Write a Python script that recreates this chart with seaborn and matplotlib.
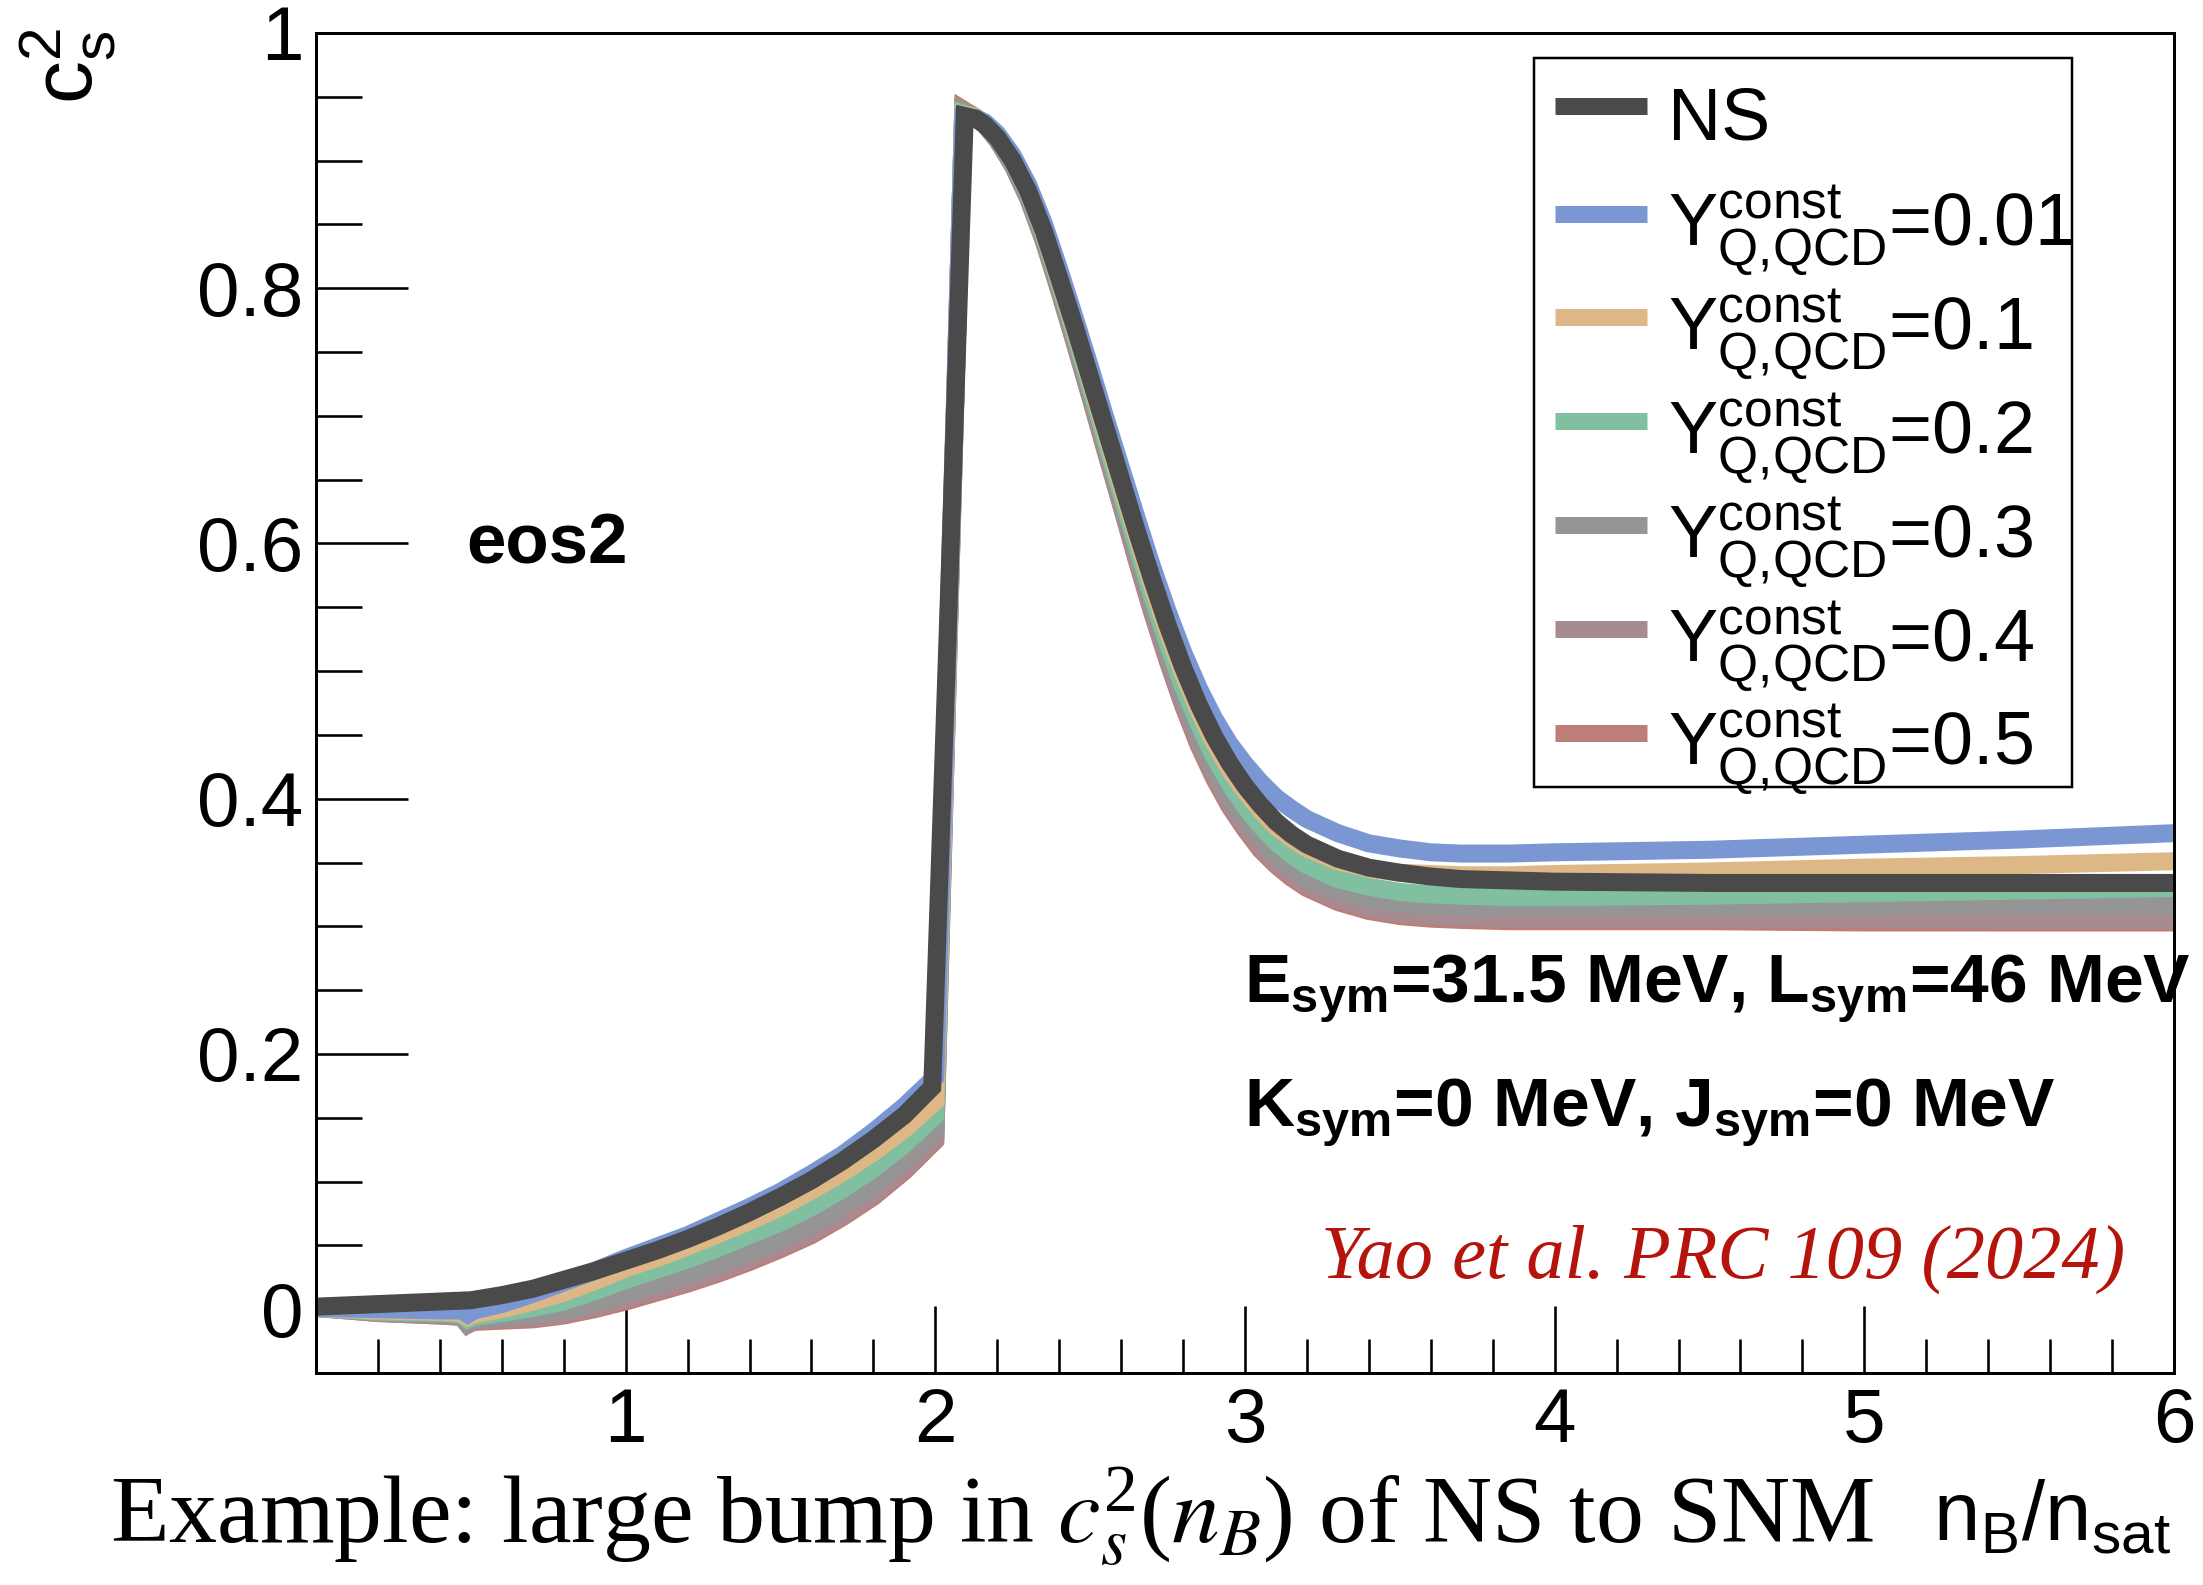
import matplotlib
matplotlib.use("Agg")
import matplotlib.pyplot as plt
import seaborn as sns
from matplotlib.ticker import MultipleLocator, FixedLocator, FuncFormatter
from matplotlib.lines import Line2D
from matplotlib.patches import Rectangle

# ---------------- data ----------------
x_ns = [0.0, 0.2, 0.4, 0.5, 0.6, 0.7, 0.8, 0.9, 1.0, 1.1, 1.2, 1.3, 1.4, 1.5, 1.6, 1.7, 1.8,
        1.9, 1.99, 2.04, 2.095, 2.13, 2.16, 2.2, 2.25, 2.3, 2.35, 2.4, 2.45, 2.5, 2.55, 2.6,
        2.65, 2.7, 2.75, 2.8, 2.85, 2.9, 2.95, 3.0, 3.05, 3.1, 3.15, 3.2, 3.3, 3.4, 3.5, 3.6,
        3.7, 3.85, 4.0, 4.5, 5.0, 5.5, 6.0]
cs2_ns = [0.002, 0.004, 0.006, 0.007, 0.011, 0.016, 0.023, 0.030, 0.038, 0.046, 0.055, 0.065,
          0.076, 0.088, 0.101, 0.116, 0.133, 0.152, 0.174, 0.53, 0.935, 0.933, 0.928, 0.918,
          0.900, 0.876, 0.845, 0.808, 0.770, 0.730, 0.690, 0.650, 0.610, 0.572, 0.536, 0.503,
          0.474, 0.449, 0.428, 0.410, 0.395, 0.382, 0.372, 0.364, 0.353, 0.346, 0.342, 0.339,
          0.337, 0.336, 0.335, 0.334, 0.334, 0.334, 0.334]

x_q = [0.0, 0.2, 0.4, 0.47, 0.49, 0.51, 0.6, 0.7, 0.8, 0.9, 1.0, 1.1, 1.2, 1.3, 1.4, 1.5, 1.6,
       1.7, 1.8, 1.9, 2.0, 2.045, 2.09, 2.13, 2.16, 2.2, 2.25, 2.3, 2.35, 2.4, 2.45, 2.5, 2.55,
       2.6, 2.65, 2.7, 2.75, 2.8, 2.85, 2.9, 2.95, 3.0, 3.05, 3.1, 3.15, 3.2, 3.3, 3.4, 3.5,
       3.6, 3.7, 3.85, 4.0, 4.5, 5.0, 5.5, 6.0]
cs2_yq001 = [0.001, 0.000, -0.001, -0.001, -0.004, -0.001,
             0.004, 0.012, 0.021, 0.030, 0.040, 0.049, 0.058, 0.069, 0.080, 0.092, 0.106, 0.121,
             0.139, 0.159, 0.182, 0.56, 0.934, 0.933, 0.930,
             0.921, 0.904, 0.881, 0.851, 0.815, 0.777, 0.738, 0.698, 0.659, 0.620, 0.582, 0.547,
             0.515, 0.487, 0.463, 0.443, 0.427, 0.413, 0.401, 0.392, 0.384,
             0.373, 0.365, 0.361, 0.358, 0.357, 0.357, 0.358, 0.360, 0.364, 0.368, 0.373]
cs2_yq01 = [0.001, -0.001, -0.002, -0.003, -0.006, -0.004,
            0.000, 0.006, 0.013, 0.022, 0.032, 0.040, 0.049, 0.059, 0.069, 0.080, 0.093, 0.107,
            0.123, 0.141, 0.163, 0.55, 0.936, 0.934, 0.929,
            0.919, 0.901, 0.877, 0.845, 0.807, 0.768, 0.728, 0.687, 0.646, 0.606, 0.567, 0.531,
            0.498, 0.469, 0.444, 0.423, 0.406, 0.391, 0.378, 0.369, 0.361,
            0.351, 0.345, 0.342, 0.341, 0.340, 0.340, 0.341, 0.343, 0.346, 0.348, 0.351]
cs2_yq02 = [0.001, -0.002, -0.003, -0.004, -0.008, -0.006,
            -0.003, 0.001, 0.006, 0.014, 0.023, 0.031, 0.039, 0.048, 0.058, 0.068, 0.080, 0.094,
            0.110, 0.129, 0.152, 0.55, 0.937, 0.934, 0.929,
            0.918, 0.899, 0.874, 0.842, 0.804, 0.764, 0.723, 0.681, 0.640, 0.599, 0.559, 0.522,
            0.488, 0.459, 0.433, 0.412, 0.394, 0.379, 0.366, 0.356, 0.348,
            0.337, 0.331, 0.327, 0.325, 0.324, 0.323, 0.323, 0.324, 0.326, 0.328, 0.330]
cs2_yq03 = [0.001, -0.002, -0.004, -0.005, -0.010, -0.008,
            -0.006, -0.004, -0.001, 0.005, 0.013, 0.020, 0.027, 0.036, 0.045, 0.055, 0.067, 0.081,
            0.097, 0.117, 0.141, 0.545, 0.938, 0.934, 0.928,
            0.917, 0.898, 0.872, 0.840, 0.801, 0.761, 0.719, 0.677, 0.635, 0.593, 0.553, 0.515,
            0.480, 0.450, 0.424, 0.402, 0.384, 0.369, 0.356, 0.346, 0.338,
            0.328, 0.321, 0.318, 0.316, 0.315, 0.315, 0.315, 0.315, 0.316, 0.316, 0.316]
cs2_yq04 = [0.001, -0.003, -0.005, -0.006, -0.012, -0.009,
            -0.008, -0.007, -0.004, 0.001, 0.008, 0.015, 0.022, 0.030, 0.039, 0.049, 0.060, 0.074,
            0.090, 0.110, 0.134, 0.54, 0.939, 0.934, 0.928,
            0.916, 0.897, 0.871, 0.838, 0.799, 0.758, 0.716, 0.674, 0.631, 0.589, 0.548, 0.510,
            0.475, 0.444, 0.418, 0.396, 0.378, 0.362, 0.350, 0.340, 0.332,
            0.321, 0.314, 0.310, 0.308, 0.307, 0.306, 0.306, 0.306, 0.306, 0.305, 0.305]
cs2_yq05 = [0.001, -0.003, -0.005, -0.006, -0.012, -0.010,
            -0.009, -0.008, -0.005, 0.000, 0.006, 0.013, 0.020, 0.028, 0.037, 0.047, 0.058, 0.072,
            0.088, 0.108, 0.132, 0.54, 0.940, 0.934, 0.928,
            0.916, 0.896, 0.870, 0.837, 0.798, 0.757, 0.715, 0.672, 0.630, 0.587, 0.546, 0.508,
            0.473, 0.442, 0.416, 0.394, 0.376, 0.360, 0.348, 0.338, 0.330,
            0.319, 0.312, 0.308, 0.306, 0.305, 0.304, 0.304, 0.304, 0.303, 0.303, 0.303]

yq_values = ["0.01", "0.1", "0.2", "0.3", "0.4", "0.5"]
yq_series = [cs2_yq001, cs2_yq01, cs2_yq02, cs2_yq03, cs2_yq04, cs2_yq05]
yq_colors = ["#7b97d3", "#ddb886", "#80c0a0", "#959595", "#a88b90", "#bd7e77"]
ns_color = "#4a4a4a"

y_ticks = [0.0, 0.2, 0.4, 0.6, 0.8, 1.0]
x_ticks = [0, 1, 2, 3, 4, 5, 6]

# ---------------- style ----------------
sns.set_theme(style="ticks")
plt.rcParams["font.family"] = ["Liberation Sans", "DejaVu Sans"]
plt.rcParams["mathtext.default"] = "regular"
plt.rcParams["text.color"] = "black"
plt.rcParams["axes.labelcolor"] = "black"
plt.rcParams["xtick.color"] = "black"
plt.rcParams["ytick.color"] = "black"

W, H = 2203, 1585
PX = 0.72  # points per pixel at dpi 100
fig = plt.figure(figsize=(W / 100, H / 100), dpi=100)
fig.patch.set_facecolor("white")
ax = fig.add_axes([316 / W, 1 - 1373 / H, (2174 - 316) / W, (1373 - 33) / H])
ax.set_facecolor("white")

LW = 18 * PX

# colored curves from the last (lowest) to the first, NS on top
for ys, col in reversed(list(zip(yq_series, yq_colors))):
    sns.lineplot(x=x_q, y=ys, color=col, lw=LW, ax=ax, sort=False,
                 estimator=None, legend=False)
    ln = ax.lines[-1]
    ln.set_solid_capstyle("butt")
    ln.set_solid_joinstyle("miter")
sns.lineplot(x=x_ns, y=cs2_ns, color=ns_color, lw=LW, ax=ax, sort=False,
             estimator=None, legend=False)
ax.lines[-1].set_solid_capstyle("butt")
ax.lines[-1].set_solid_joinstyle("miter")

ax.set_xlim(0, 6)
ax.set_ylim(-0.05, 1.0)
ax.set_xlabel("")
ax.set_ylabel("")

ax.xaxis.set_major_locator(FixedLocator(x_ticks))
ax.xaxis.set_minor_locator(MultipleLocator(0.2))
ax.yaxis.set_major_locator(FixedLocator(y_ticks))
ax.yaxis.set_minor_locator(MultipleLocator(0.05))
ax.xaxis.set_major_formatter(FuncFormatter(lambda v, p: "" if abs(v) < 1e-9 else "%g" % v))
ax.yaxis.set_major_formatter(FuncFormatter(lambda v, p: "%g" % round(v, 2)))

for s in ax.spines.values():
    s.set_visible(True)
    s.set_color("black")
    s.set_linewidth(3 * PX)

ax.tick_params(axis="x", which="major", direction="in", length=67 * PX, width=2.6 * PX,
               labelsize=55, pad=10, colors="black", top=False)
ax.tick_params(axis="x", which="minor", direction="in", length=34 * PX, width=2.6 * PX,
               colors="black", top=False)
ax.tick_params(axis="y", which="major", direction="in", length=92 * PX, width=2.6 * PX,
               labelsize=55, pad=9, colors="black", right=False)
ax.tick_params(axis="y", which="minor", direction="in", length=46 * PX, width=2.6 * PX,
               colors="black", right=False)
ax.grid(False)

# ---------------- legend (NS row + six Y rows, one frame) ----------------
leg_kw = dict(bbox_transform=fig.transFigure, frameon=False, fontsize=53,
              handlelength=1.25, handletextpad=0.29, handleheight=1.36, borderpad=0,
              borderaxespad=0)
ns_handle = Line2D([], [], color=ns_color, lw=17 * PX, solid_capstyle="butt")
leg_ns = ax.legend([ns_handle], ["NS"], loc="center left",
                   bbox_to_anchor=(1555 / W, 1 - 115 / H), **leg_kw)
ax.add_artist(leg_ns)

yq_handles, yq_labels = [], []
for v, col in zip(yq_values, yq_colors):
    yq_handles.append(Line2D([], [], color=col, lw=17 * PX, solid_capstyle="butt"))
    yq_labels.append(r"Y$^{const}_{Q{,}QCD}$=" + v)
leg_yq = ax.legend(yq_handles, yq_labels, loc="center left",
                   bbox_to_anchor=(1555 / W, 1 - 489 / H), labelspacing=0.085, **leg_kw)
for lg in (leg_ns, leg_yq):
    for t in lg.get_texts():
        t.set_color("black")
fig.add_artist(Rectangle((1534 / W, 1 - 787 / H), (2072 - 1534) / W, (787 - 58) / H,
                         transform=fig.transFigure, fill=False, ec="black", lw=2.5 * PX,
                         zorder=5))

# ---------------- texts ----------------
fig.text(466 / W, 1 - 546 / H, "eos2", fontsize=51, fontweight="bold",
         ha="left", va="center")
fig.text(1244 / W, 1 - 1002 / H, r"E$_{sym}$=31.5 MeV, L$_{sym}$=46 MeV", fontsize=50,
         fontweight="bold", ha="left", va="baseline")
fig.text(1244 / W, 1 - 1126 / H, r"K$_{sym}$=0 MeV, J$_{sym}$=0 MeV", fontsize=50,
         fontweight="bold", ha="left", va="baseline")
fig.text(2125 / W, 1 - 1278 / H, "Yao et al. PRC 109 (2024)", family=["Liberation Serif"],
         style="italic", color="#b5140c", fontsize=55, ha="right", va="baseline")
fig.text(110 / W, 1 - 1543 / H,
         r"Example: large bump in $\mathit{c}_{\mathit{s}}^{2}(\mathit{n}_{\mathit{B}})$ of NS to SNM",
         family=["Liberation Serif"], fontsize=69, ha="left", va="baseline",
         math_fontfamily="stix")
fig.text(2171 / W, 1 - 1540 / H, r"n$_{B}$/n$_{sat}$", fontsize=60, ha="right", va="baseline")
fig.text(68 / W, 1 - 28 / H, r"c$_{s}^{2}$", rotation=90, fontsize=62, ha="center", va="top")

fig.savefig("out.png", dpi=100, facecolor="white")
